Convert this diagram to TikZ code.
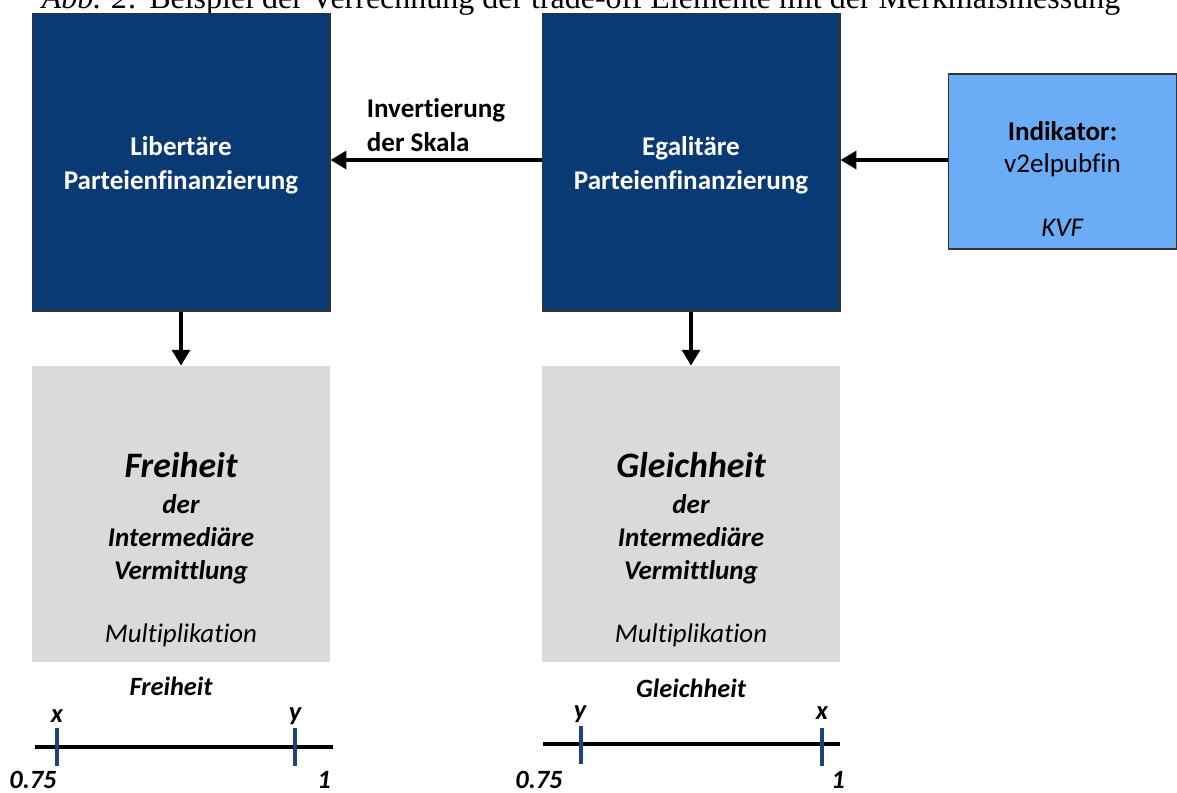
\documentclass[tikz,border=0pt]{standalone}
\usepackage{fontspec}
\setmainfont{Carlito}[Ligatures=NoCommon]
\newfontfamily\capfont{Liberation Serif}
\usetikzlibrary{arrows.meta, positioning}
\definecolor{navybox}{RGB}{10,58,115}
\definecolor{lightbox}{RGB}{106,173,246}
\definecolor{greybox}{RGB}{217,218,220}
\definecolor{tickblue}{RGB}{28,68,120}
\tikzset{
    flowbase/.style={x=0.02cm, y=-0.02cm, font=\fontsize{15.4}{19.3}\selectfont},
    navynode/.style={rectangle, draw=black!80, line width=0.6pt, fill=navybox, text=white, minimum width=5.96cm, minimum height=5.96cm, inner sep=0pt},
    navytext/.style={text=white, font=\fontsize{15.4}{19.3}\selectfont\bfseries, align=center, inner sep=0pt},
    indnode/.style={rectangle, draw=black!80, line width=0.6pt, fill=lightbox, minimum width=4.58cm, minimum height=3.5cm, inner sep=0pt},
    indtext/.style={font=\fontsize{15.4}{18.2}\selectfont, align=center, inner sep=0pt},
    resnode/.style={rectangle, fill=greybox, minimum width=5.96cm, minimum height=5.92cm, inner sep=0pt},
    restext/.style={align=center, inner sep=0pt, font=\fontsize{15.4}{18.7}\selectfont\bfseries\itshape},
    multtext/.style={font=\fontsize{15.3}{18}\selectfont\itshape, anchor=base, inner sep=0pt},
    scalelabel/.style={font=\fontsize{15}{18}\selectfont\bfseries\itshape, inner sep=0pt, anchor=base},
    line/.style={draw, -{Triangle[length=9pt, width=10pt]}, line width=2.4pt, color=black},
    axis/.style={draw, line width=2.3pt, color=black},
    tick/.style={draw, line width=1.8pt, color=tickblue},
}

\begin{document}
\begin{tikzpicture}[flowbase]
\useasboundingbox (0,0) rectangle (1177,792);

% caption, cut at the top edge
\node[font=\capfont\fontsize{18.2}{20}\selectfont, anchor=base, inner sep=0pt] (cap) at (581,8) {\textit{Abb. 2:} Beispiel der Verrechnung der trade-off Elemente mit der Merkmalsmessung};

% ===================== TOP ROW =====================
\node[navynode] (lib) at (181,162) {};
\node[navytext] (lib_t) at (181,165) {Libertäre\\Parteienfinanzierung};
\node[navynode] (ega) at (691,162) {};
\node[navytext] (ega_t) at (691,165) {Egalitäre\\Parteienfinanzierung};
\node[indnode] (ind) at (1062.5,161.5) {};
\node[indtext] (ind_t) at (1062.5,179) {\textbf{Indikator:}\\v2elpubfin\\[18.2pt]\textit{KVF}};

\draw[line] (ind.west |- 0,160) -- (ega.east |- 0,160);
\draw[line] (ega.west |- 0,160) -- node[above=0pt, align=left, font=\fontsize{15.4}{19.3}\selectfont\bfseries]{Invertierung\\der Skala} (lib.east |- 0,160);

% ===================== RESULT BOXES =====================
\node[resnode] (frei) at (181,514) {};
\node[restext] (frei_t) at (181,518) {{\fontsize{20.4}{20}\selectfont Freiheit}\\[2.1pt]der\\Intermediäre\\Vermittlung};
\node[multtext] (frei_m) at (181,642) {Multiplikation};
\node[resnode] (gleich) at (691,514) {};
\node[restext] (gleich_t) at (691,518) {{\fontsize{20.4}{20}\selectfont Gleichheit}\\[2.1pt]der\\Intermediäre\\Vermittlung};
\node[multtext] (gleich_m) at (691,642) {Multiplikation};

\draw[line] (lib) -- (frei);
\draw[line] (ega) -- (gleich);

% ===================== SCALES =====================
% Freiheit
\node[scalelabel] (f_title) at (171,695) {Freiheit};
\coordinate (f_a) at (35,747);
\coordinate (f_b) at (333,747);
\draw[axis] (f_a) -- (f_b);
\draw[tick] (57,728) -- (57,766);
\draw[tick] (295,728) -- (295,766);
\node[scalelabel] (f_x) at (57,722) {x};
\node[scalelabel] (f_y) at (295,720) {y};
\node[scalelabel] (f_lo) at (33,788) {0.75};
\node[scalelabel] (f_hi) at (324,788) {1};

% Gleichheit
\node[scalelabel] (g_title) at (691,697) {Gleichheit};
\coordinate (g_a) at (543,744);
\coordinate (g_b) at (840,744);
\draw[axis] (g_a) -- (g_b);
\draw[tick] (581,726) -- (581,764);
\draw[tick] (822,728) -- (822,766);
\node[scalelabel] (g_y) at (580,718) {y};
\node[scalelabel] (g_x) at (822,719) {x};
\node[scalelabel] (g_lo) at (539,788) {0.75};
\node[scalelabel] (g_hi) at (838,788) {1};

\end{tikzpicture}
\end{document}
